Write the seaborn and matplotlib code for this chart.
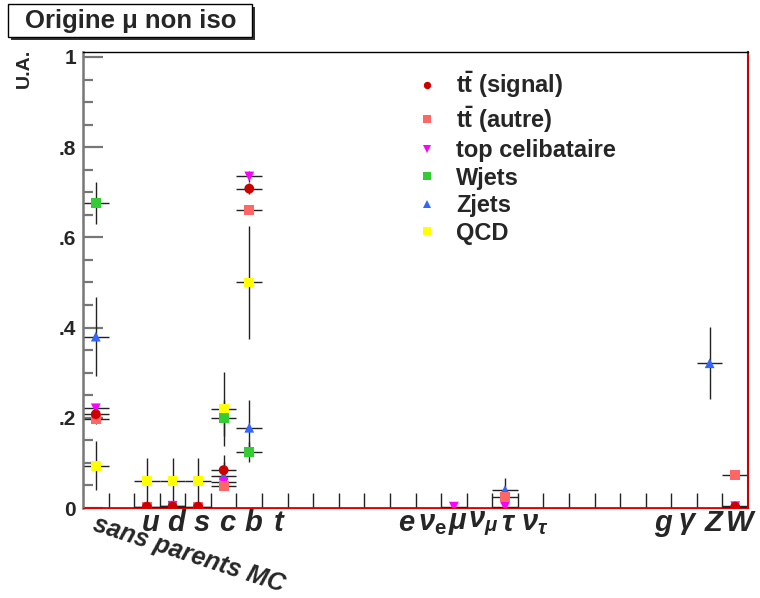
import matplotlib
matplotlib.use("Agg")
import matplotlib.pyplot as plt
import matplotlib.transforms as mtransforms
from matplotlib.patches import Rectangle
from matplotlib.ticker import FixedLocator, MultipleLocator, FuncFormatter
import seaborn as sns
import numpy as np
import pandas as pd

# x bins: parent of the muon (bin 0 = no MC parent)
bin_labels = ["sans parents MC", "", "u", "d", "s", "c", "b", "t", "", "", "", "",
              "e", r"$\nu_\mathbf{e}$", r"$\mu$", r"$\nu_\mu$", r"$\tau$", r"$\nu_\tau$",
              "", "", "", "", "g", r"$\gamma$", "Z", "W"]

series_names = [r"$\mathbf{t\bar{t}}$ (signal)", r"$\mathbf{t\bar{t}}$ (autre)",
                "top celibataire", "Wjets", "Zjets", "QCD"]
series_colors = ["#cc0000", "#ff6666", "#ff00ff", "#33cc33", "#3366ff", "#ffff00"]
series_markers = ["o", "s", "v", "s", "^", "s"]

sig_bins = [0, 2, 3, 4, 5, 6, 25]
sig_vals = [0.208, 0.003, 0.003, 0.003, 0.084, 0.708, 0.003]
sig_errs = [0.012, 0.003, 0.003, 0.003, 0.033, 0.012, 0.003]

autre_bins = [0, 2, 4, 5, 6, 16, 25]
autre_vals = [0.197, 0.003, 0.003, 0.049, 0.661, 0.024, 0.073]
autre_errs = [0.010, 0.003, 0.003, 0.005, 0.010, 0.006, 0.005]

top_bins = [0, 3, 5, 6, 14, 16, 25]
top_vals = [0.221, 0.005, 0.057, 0.735, 0.003, 0.003, 0.004]
top_errs = [0.010, 0.004, 0.005, 0.012, 0.003, 0.003, 0.003]

wjets_bins = [0, 3, 5, 6]
wjets_vals = [0.676, 0.005, 0.199, 0.125]
wjets_errs = [0.047, 0.005, 0.040, 0.022]

zjets_bins = [0, 5, 6, 16, 24]
zjets_vals = [0.380, 0.072, 0.178, 0.040, 0.321]
zjets_errs = [0.087, 0.030, 0.061, 0.027, 0.080]

qcd_bins = [0, 2, 3, 4, 5, 6]
qcd_vals = [0.094, 0.060, 0.060, 0.060, 0.2195, 0.500]
qcd_errs = [0.055, 0.050, 0.050, 0.050, 0.083, 0.125]

all_series = [(sig_bins, sig_vals, sig_errs), (autre_bins, autre_vals, autre_errs),
              (top_bins, top_vals, top_errs), (wjets_bins, wjets_vals, wjets_errs),
              (zjets_bins, zjets_vals, zjets_errs), (qcd_bins, qcd_vals, qcd_errs)]

# long table, last series first so that the signal ends up on top
rows = []
for name, (b, v, e) in reversed(list(zip(series_names, all_series))):
    for bi, vi, ei in zip(b, v, e):
        rows.append({"x": bi + 0.5, "val": vi, "err": ei, "series": name})
df = pd.DataFrame(rows)

sns.set_style("ticks")
plt.rcParams["font.family"] = ["Liberation Sans", "DejaVu Sans"]
plt.rcParams["font.weight"] = "bold"
plt.rcParams["mathtext.fontset"] = "custom"
plt.rcParams["mathtext.rm"] = "Liberation Sans:bold"
plt.rcParams["mathtext.bf"] = "Liberation Sans:bold"
plt.rcParams["mathtext.it"] = "Liberation Sans:italic"

fig = plt.figure(figsize=(7.6, 5.98), dpi=100)
ax = fig.add_axes([83 / 760, 90 / 598, 665 / 760, 456 / 598])

ax.errorbar(df["x"], df["val"], yerr=df["err"], xerr=0.5, fmt="none",
            ecolor="#222222", elinewidth=1, capsize=0, zorder=2)
sns.scatterplot(data=df, x="x", y="val", hue="series", style="series",
                hue_order=series_names, style_order=series_names,
                palette=dict(zip(series_names, series_colors)),
                markers=dict(zip(series_names, series_markers)),
                s=50, linewidth=0, ax=ax, zorder=3, legend=True)

ax.axhline(0, color="#e00000", lw=2, zorder=1)

ax.set_xlim(0, len(bin_labels))
ax.set_ylim(0, 1.011)
ax.set_xlabel("")
ax.set_ylabel("")

# y axis in ROOT style
ax.yaxis.set_major_locator(FixedLocator([0, 0.2, 0.4, 0.6, 0.8, 1.0]))
ax.yaxis.set_minor_locator(MultipleLocator(0.05))
ax.yaxis.set_major_formatter(FuncFormatter(
    lambda v, p: "0" if v == 0 else ("1" if abs(v - 1) < 1e-9 else ("%.1f" % v).lstrip("0"))))
ax.tick_params(axis="y", which="major", direction="in", length=14.5, width=1.6,
               color="#777777", labelsize=15, pad=5)
ax.tick_params(axis="y", which="minor", direction="in", length=7.2, width=1.6, color="#777777")

# x axis: labels at bin centres, ticks at bin edges
ax.xaxis.set_major_locator(FixedLocator(np.arange(len(bin_labels)) + 0.5))
ax.xaxis.set_minor_locator(FixedLocator(np.arange(1, len(bin_labels))))
ax.set_xticklabels(bin_labels)
ax.tick_params(axis="x", which="major", length=0, labelsize=21, pad=1)
ax.tick_params(axis="x", which="minor", direction="in", length=10.8, width=1, color="#222222")
for i, lab in enumerate(ax.get_xticklabels()):
    lab.set_fontweight("bold")
    lab.set_fontstyle("italic")
    if i == 0:
        lab.set_rotation(-18)
        lab.set_ha("left")
        lab.set_rotation_mode("anchor")
        lab.set_fontsize(18)
        lab.set_transform(lab.get_transform() + mtransforms.ScaledTranslation(2 / 100, -3 / 100, fig.dpi_scale_trans))
    else:
        lab.set_transform(lab.get_transform() + mtransforms.ScaledTranslation(4 / 100, 0, fig.dpi_scale_trans))
for lab in ax.get_yticklabels():
    lab.set_fontweight("bold")

ax.spines["left"].set_color("#777777")
ax.spines["left"].set_linewidth(1.8)
ax.spines["top"].set_color("black")
ax.spines["top"].set_linewidth(1)
ax.spines["right"].set_color("#cc0000")
ax.spines["right"].set_linewidth(1.5)
ax.spines["bottom"].set_color("#e00000")

handles, labels = ax.get_legend_handles_labels()
ax.get_legend().remove()
leg = ax.legend(handles, labels, loc="upper left", bbox_to_anchor=(410 / 760, 1 - 65 / 598),
                bbox_transform=fig.transFigure, frameon=False, markerscale=0.75,
                handlelength=1.0, handletextpad=0.75, labelspacing=0.19,
                borderaxespad=0, borderpad=0.2, prop={"weight": "bold", "size": 17})

# title box with shadow
fig.patches.append(Rectangle((11 / 760, 1 - 40 / 598), 244 / 760, 33 / 598,
                             transform=fig.transFigure, facecolor="#333333", edgecolor="none"))
fig.patches.append(Rectangle((8 / 760, 1 - 37 / 598), 244 / 760, 33 / 598,
                             transform=fig.transFigure, facecolor="white", edgecolor="black", lw=1))
fig.text(131 / 760, 1 - 21 / 598, "Origine μ non iso", ha="center", va="center",
         fontsize=18.5, fontweight="bold")

fig.text(24 / 760, 1 - 68 / 598, "U.A.", rotation=90, ha="center", va="center",
         fontsize=14, fontweight="bold")

fig.savefig("out.png", dpi=100)
